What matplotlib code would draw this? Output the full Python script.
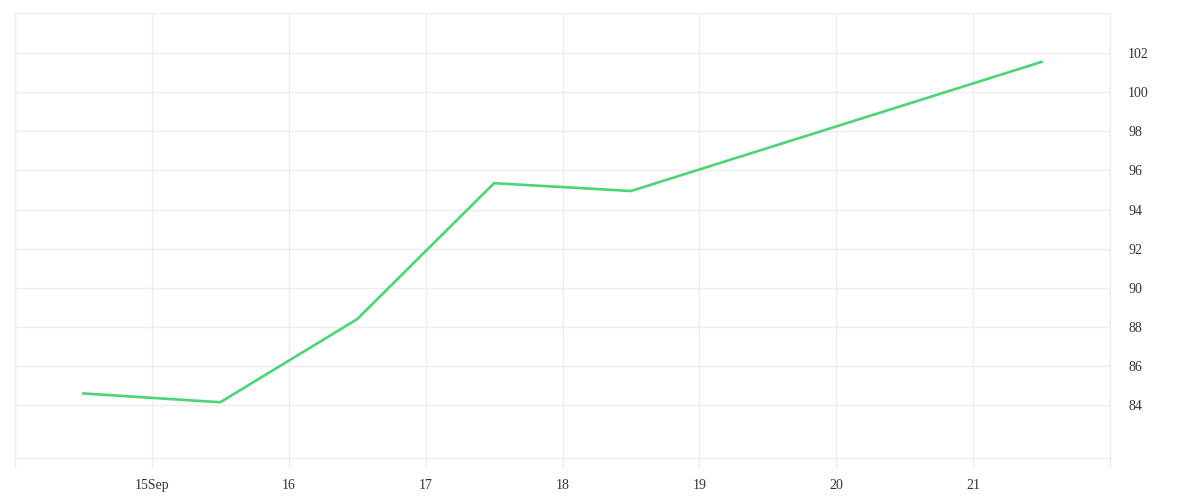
import matplotlib
matplotlib.use('Agg')
import matplotlib.pyplot as plt
from matplotlib.ticker import FixedLocator, FixedFormatter

# data (x = day of September, points sit mid-day)
days = [14.5, 15.5, 16.5, 17.5, 18.5, 19.5, 20.5, 21.5]
values = [84.6, 84.15, 88.4, 95.35, 94.95, 97.15, 99.35, 101.55]

x_ticks = [14, 15, 16, 17, 18, 19, 20, 21, 22]
x_labels = ['', '15Sep', '16', '17', '18', '19', '20', '21', '']
y_ticks = [84, 86, 88, 90, 92, 94, 96, 98, 100, 102]

grid_col = '#ededed'
line_col = '#4cd478'

plt.rcParams['font.family'] = ['Liberation Serif', 'DejaVu Serif']

fig = plt.figure(figsize=(12, 5), dpi=100)
ax = fig.add_axes([0.0125, 0.084, 0.9125, 0.89])

ax.plot(days, values, color=line_col, linewidth=1.9, solid_joinstyle='miter')

ax.set_xlim(14, 22)
ax.set_ylim(81.3, 104.05)

ax.xaxis.set_major_locator(FixedLocator(x_ticks))
ax.xaxis.set_major_formatter(FixedFormatter(x_labels))
ax.set_yticks(y_ticks)
ax.yaxis.tick_right()

ax.grid(True, color=grid_col, linewidth=1)
ax.set_axisbelow(True)
for s in ax.spines.values():
    s.set_color(grid_col)
    s.set_linewidth(1)

ax.tick_params(axis='x', length=7, color=grid_col, width=1, pad=8,
               labelsize=10, labelcolor='#333333')
ax.tick_params(axis='y', length=0, pad=13, labelsize=10, labelcolor='#333333')

fig.savefig('out.png', dpi=100, facecolor='white')
